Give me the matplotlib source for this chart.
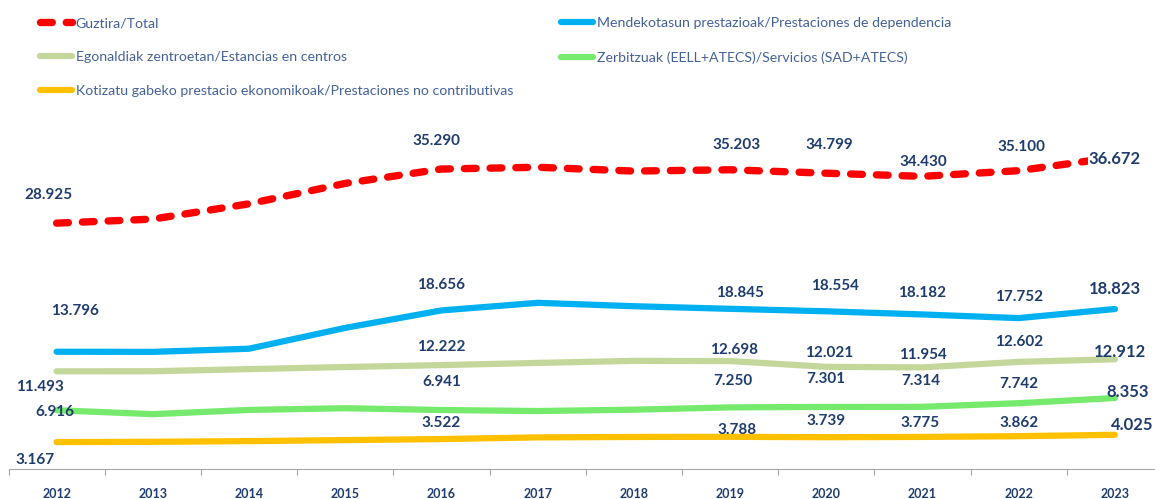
import matplotlib
matplotlib.use("Agg")
import matplotlib.pyplot as plt

# Data (persons)
years = ["2012", "2013", "2014", "2015", "2016", "2017",
         "2018", "2019", "2020", "2021", "2022", "2023"]
total = [28925, 29400, 31200, 33600, 35290, 35500,
         35050, 35203, 34799, 34430, 35100, 36672]
dependencia = [13796, 13780, 14150, 16600, 18656, 19550,
               19150, 18845, 18554, 18182, 17752, 18823]
centros = [11493, 11500, 11750, 12000, 12222, 12480,
           12720, 12698, 12021, 11954, 12602, 12912]
servicios = [6916, 6450, 6950, 7150, 6941, 6820,
             6980, 7250, 7301, 7314, 7742, 8353]
no_contrib = [3167, 3200, 3280, 3400, 3522, 3720,
              3770, 3788, 3739, 3775, 3862, 4025]

labels = ["Guztira/Total",
          "Mendekotasun prestazioak/Prestaciones de dependencia",
          "Egonaldiak zentroetan/Estancias en centros",
          "Zerbitzuak (EELL+ATECS)/Servicios (SAD+ATECS)",
          "Kotizatu gabeko prestacio ekonomikoak/Prestaciones no contributivas"]

# years that carry a value label
labelled = [0, 4, 7, 8, 9, 10, 11]

# label offsets in pixels (dx, dy up) for each labelled year
offsets = {
    "total": [(-8, 28), (-5, 28), (6, 25), (3, 28), (1, 14), (3, 24), (0, -2)],
    "dependencia": [(18, 41), (0, 25), (10, 16), (9, 25), (0, 21), (0, 21), (0, 20)],
    "centros": [(-17, -16), (0, 18), (4, 11), (3, 14), (0, 12), (0, 20), (5, 7)],
    "servicios": [(-2, -2), (0, 28), (3, 26), (0, 28), (-2, 26), (0, 19), (13, 6)],
    "no_contrib": [(-22, -18), (0, 16), (7, 7), (0, 16), (-2, 14), (0, 13), (17, 10)],
}

NAVY = "#1f3c6e"
LEGEND_TXT = "#44629a"
plt.rcParams["font.family"] = ["Lato", "DejaVu Sans"]

fig = plt.figure(figsize=(11.55, 4.99), dpi=100)
W, H = 1155, 499
# axis line at y=469px, 12 categories of 96.2px starting at x=8.5px
ax = fig.add_axes([8.5 / W, 30 / H, 1154.5 / W, 340 / H])

x = list(range(len(years)))
series = [
    ("total", total, dict(color="#ff0000", lw=5.3, dashes=(1.6, 1.9),
                          dash_capstyle="round", zorder=3)),
    ("dependencia", dependencia, dict(color="#00b0f0", lw=4.5, solid_capstyle="round")),
    ("centros", centros, dict(color="#c4d79b", lw=4.5, solid_capstyle="round")),
    ("servicios", servicios, dict(color="#75ea6c", lw=4.5, solid_capstyle="round")),
    ("no_contrib", no_contrib, dict(color="#ffc000", lw=4.5, solid_capstyle="round")),
]

handles = []
for (key, vals, style), lab in zip(series, labels):
    ln, = ax.plot(x, vals, label=lab, **style)
    handles.append(ln)
    for j, i in enumerate(labelled):
        dx, dy = offsets[key][j]
        big = i == len(years) - 1
        bbox = None
        if key == "total" and big:
            bbox = dict(facecolor="white", edgecolor="none", pad=1)
        ax.annotate(f"{vals[i]:,}".replace(",", "."), (i, vals[i]),
                    xytext=(dx * 0.72, dy * 0.72), textcoords="offset points",
                    ha="center", va="center", color=NAVY, fontweight="bold",
                    fontsize=12 if big else 11, bbox=bbox, zorder=5)

ax.set_xlim(-0.5, 11.5)
ax.set_ylim(0, 40000)
ax.set_yticks([])
for s in ["top", "right", "left"]:
    ax.spines[s].set_visible(False)
ax.spines["bottom"].set_color("#a6a6a6")
ax.spines["bottom"].set_linewidth(0.8)
ax.set_xticks(x)
ax.set_xticklabels(years, fontweight="bold", fontsize=9, color=NAVY)
ax.tick_params(axis="x", which="major", length=0, pad=14)
ax.set_xticks([i - 0.5 for i in range(len(years) + 1)], minor=True)
ax.tick_params(axis="x", which="minor", length=4, color="#a6a6a6", width=0.8)

legend_kw = dict(frameon=False, fontsize=10.2, handlelength=2.25, handletextpad=0.28,
                 borderpad=0, borderaxespad=0, labelspacing=1.55,
                 labelcolor=LEGEND_TXT, loc="upper left")
leg1 = fig.legend([handles[0], handles[2], handles[4]],
                  [labels[0], labels[2], labels[4]],
                  bbox_to_anchor=(40 / W, 1 - 17 / H), **legend_kw)
leg2 = fig.legend([handles[1], handles[3]], [labels[1], labels[3]],
                  bbox_to_anchor=(561 / W, 1 - 17 / H), **legend_kw)

fig.savefig("out.png", dpi=100)
